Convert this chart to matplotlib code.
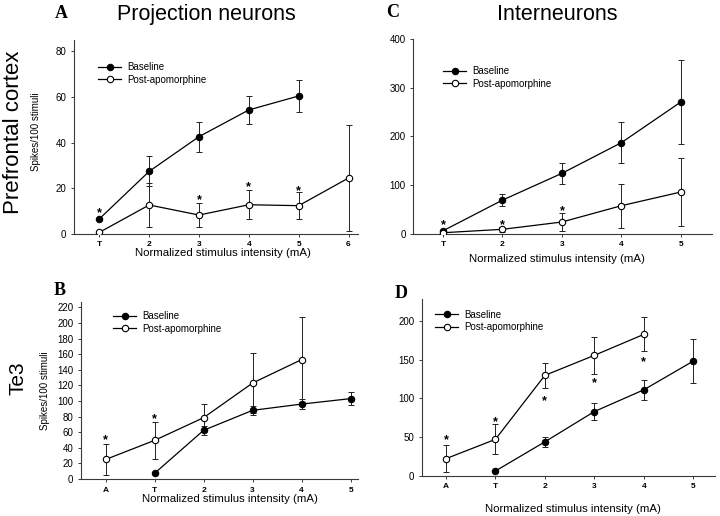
import numpy as np
import matplotlib
matplotlib.use("Agg")
import matplotlib.pyplot as plt

plt.rcParams['font.family'] = ['Liberation Sans', 'DejaVu Sans']

W, H = 720, 516

# ---------------- data ----------------
# Panel A: prefrontal cortex, projection neurons
a_xlabels = ['T', '2', '3', '4', '5', '6']
a_base_x = [0, 1, 2, 3, 4]
a_base = [6.6, 27.4, 42.6, 54.3, 60.4]
a_base_err = [np.nan, 6.6, 6.5, 6.3, 6.9]
a_post_x = [0, 1, 2, 3, 4, 5]
a_post = [0.7, 12.7, 8.3, 12.8, 12.4, 24.5]
a_post_err = [0.5, 9.5, 5.1, 6.3, 5.9, 23.0]
a_sig_x = [0, 2, 3, 4]
a_sig_y = [10.8, 16.8, 22.2, 20.7]
a_yticks = [0, 20, 40, 60, 80]

# Panel C: prefrontal cortex, interneurons
c_xlabels = ['T', '2', '3', '4', '5']
c_base_x = [0, 1, 2, 3, 4]
c_base = [6, 69, 124, 187, 270.5]
c_base_err = [np.nan, 12.5, 22, 41.5, 86]
c_post_x = [0, 1, 2, 3, 4]
c_post = [2, 9, 24, 57.5, 85.6]
c_post_err = [1, 5, 17.5, 45.5, 70.5]
c_sig_x = [0, 1, 2]
c_sig_y = [26, 26, 55.5]
c_yticks = [0, 100, 200, 300, 400]

# Panel B: Te3, projection neurons
b_xlabels = ['A', 'T', '2', '3', '4', '5']
b_base_x = [1, 2, 3, 4, 5]
b_base = [7.3, 62.4, 88, 96, 103]
b_base_err = [np.nan, 6, 5.5, 6, 8]
b_post_x = [0, 1, 2, 3, 4]
b_post = [25, 49.5, 78.6, 123, 153]
b_post_err = [19.5, 24, 18, 39, 54]
b_sig_x = [0, 1]
b_sig_y = [55.5, 81.6]
b_yticks = list(range(0, 221, 20))

# Panel D: Te3, interneurons
d_xlabels = ['A', 'T', '2', '3', '4', '5']
d_base_x = [1, 2, 3, 4, 5]
d_base = [6.4, 44, 83, 111, 148]
d_base_err = [np.nan, 6.5, 10.5, 13, 28]
d_post_x = [0, 1, 2, 3, 4]
d_post = [22.3, 47.2, 129.6, 155.4, 182.4]
d_post_err = [17.5, 19.5, 16, 24, 22]
d_sig_x = [0, 1, 2, 3, 4]
d_sig_y = [52, 75, 102, 124.5, 152]
d_yticks = [0, 50, 100, 150, 200]

series_names = ['Baseline', 'Post-apomorphine']
xlabel_text = 'Normalized stimulus intensity (mA)'
ylabel_text = 'Spikes/100 stimuli'


def fx(x):
    return x / W


def fy(y):
    return 1 - y / H


def make_axes(left, right, top, bottom):
    return fig.add_axes([fx(left), fy(bottom), (right - left) / W, (bottom - top) / H])


fig = plt.figure(figsize=(W / 100, H / 100), dpi=100)
fig.patch.set_facecolor('white')

spine_col = '#3a3a3a'


def panel(ax, xlabels, xlim, ylim, yticks, bx, by, be, px, py, pe, sx, sy, leg_anchor):
    ax.set_xlim(*xlim)
    ax.set_ylim(*ylim)
    for s in ['top', 'right']:
        ax.spines[s].set_visible(False)
    for s in ['left', 'bottom']:
        ax.spines[s].set_color(spine_col)
        ax.spines[s].set_linewidth(0.8)
    ax.set_xticks(range(len(xlabels)))
    ax.set_xticklabels(xlabels, fontsize=6, fontweight='bold')
    ax.set_yticks(yticks)
    ax.set_yticklabels([str(t) for t in yticks], fontsize=7)
    ax.tick_params(axis='both', direction='out', length=2.2, width=0.7,
                   color=spine_col, pad=3.2)
    # error bars
    ax.errorbar(bx, by, yerr=be, fmt='none', ecolor='#222222', elinewidth=0.7,
                capsize=2.5, capthick=0.7, zorder=2)
    ax.errorbar(px, py, yerr=pe, fmt='none', ecolor='#222222', elinewidth=0.7,
                capsize=2.5, capthick=0.7, zorder=2)
    ax.plot(bx, by, '-', color='black', lw=0.9, marker='o', ms=4.6,
            mfc='black', mec='black', mew=0.8, label=series_names[0], zorder=3)
    ax.plot(px, py, '-', color='black', lw=0.9, marker='o', ms=4.6,
            mfc='white', mec='black', mew=0.8, label=series_names[1], zorder=3)
    for x, y in zip(sx, sy):
        ax.annotate('*', (x, y), xytext=(0, -5.2), textcoords='offset points',
                    ha='center', va='baseline', fontsize=9, fontweight='bold')
    ax.legend(loc='upper left', bbox_to_anchor=leg_anchor, frameon=False,
              fontsize=7, handlelength=2.4, handletextpad=0.6, borderpad=0,
              borderaxespad=0, labelspacing=0.25, numpoints=1)


# Panel A
axA = make_axes(73.7, 358, 40, 234)
panel(axA, a_xlabels, (-0.514, 5.19), (0, 84.9), a_yticks,
      a_base_x, a_base, a_base_err, a_post_x, a_post, a_post_err,
      a_sig_x, a_sig_y, (0.0855, 0.885))

# Panel C
axC = make_axes(413.3, 711.7, 39, 233.7)
panel(axC, c_xlabels, (-0.5, 4.52), (0, 400), c_yticks,
      c_base_x, c_base, c_base_err, c_post_x, c_post, c_post_err,
      c_sig_x, c_sig_y, (0.0995, 0.86))

# Panel B
axB = make_axes(80.7, 358, 301.7, 479)
panel(axB, b_xlabels, (-0.507, 5.15), (0, 227.2), b_yticks,
      b_base_x, b_base, b_base_err, b_post_x, b_post, b_post_err,
      b_sig_x, b_sig_y, (0.1165, 0.945))

# Panel D
axD = make_axes(421.7, 715, 299.3, 476)
panel(axD, d_xlabels, (-0.49, 5.44), (0, 227.6), d_yticks,
      d_base_x, d_base, d_base_err, d_post_x, d_post, d_post_err,
      d_sig_x, d_sig_y, (0.045, 0.942))

# x labels
for (x, y) in [(223, 255.5), (557, 261.5), (230, 502), (573, 512)]:
    fig.text(fx(x), fy(y), xlabel_text, ha='center', va='baseline', fontsize=8.2)

# y labels
fig.text(fx(36), fy(132), ylabel_text, rotation=90, ha='center', va='center', fontsize=7)
fig.text(fx(45), fy(391), ylabel_text, rotation=90, ha='center', va='center', fontsize=7)

# row labels
fig.text(fx(14), fy(132.5), 'Prefrontal cortex', rotation=90, ha='center', va='center', fontsize=16)
fig.text(fx(18), fy(378.5), 'Te3', rotation=90, ha='center', va='center', fontsize=15)

# column titles
fig.text(fx(206), fy(20), 'Projection neurons', ha='center', va='baseline', fontsize=15.5)
fig.text(fx(557.5), fy(20), 'Interneurons', ha='center', va='baseline', fontsize=15.5)

# panel letters
serif = ['Liberation Serif', 'DejaVu Serif']
for letter, x, y in [('A', 61, 18), ('C', 392.5, 17), ('B', 60, 295), ('D', 401.5, 298)]:
    fig.text(fx(x), fy(y), letter, ha='center', va='baseline', fontsize=13,
             fontweight='bold', family=serif)

fig.savefig('out.png', dpi=100, facecolor='white')
